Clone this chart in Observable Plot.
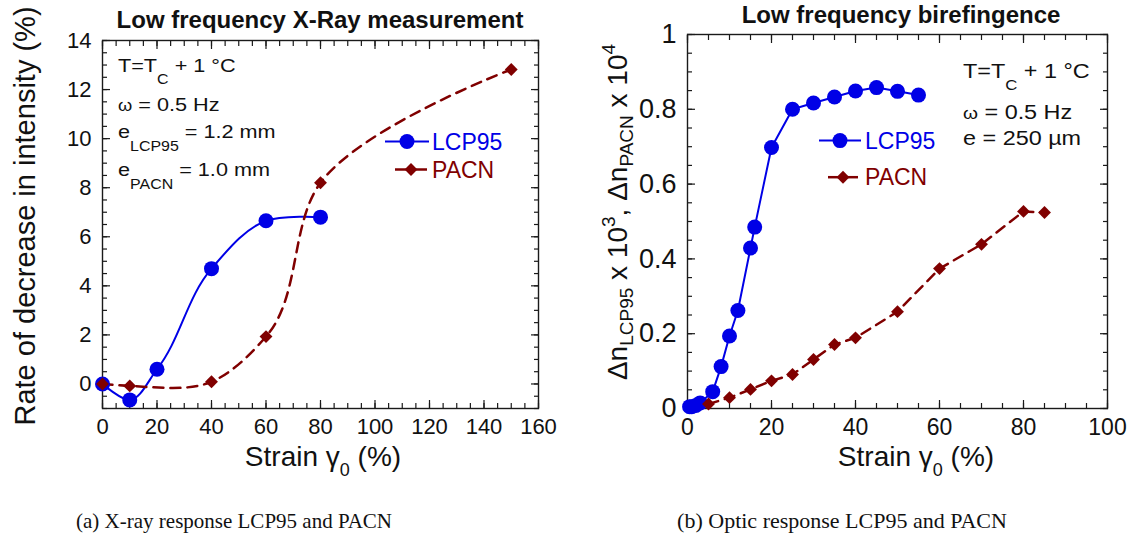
<!DOCTYPE html>
<html><head><meta charset="utf-8">
<script src="https://cdn.jsdelivr.net/npm/d3@7"></script>
<script src="https://cdn.jsdelivr.net/npm/@observablehq/plot@0.6"></script>
<style>
body{margin:0;background:#fff;}
#wrap{position:relative;width:1133px;height:541px;overflow:hidden;background:#fff;}
#left{position:absolute;left:0;top:0;}
#right{position:absolute;left:566px;top:0;}
.cap{position:absolute;top:509px;font-family:"Liberation Serif","Times New Roman",serif;font-size:21px;color:#111;transform:translateX(-50%);white-space:nowrap;}
</style></head><body>
<div id="wrap"><div id="left"></div><div id="right"></div>
<div class="cap" style="left:234px">(a) X-ray response LCP95 and PACN</div>
<div class="cap" style="left:842px;font-size:22px;top:508px">(b) Optic response LCP95 and PACN</div>
</div>
<script>
// ---- data: X-ray panel ----
const xrayStrainLCP95 = [0, 10, 20, 40, 60, 80];
const xrayRateLCP95   = [0, -0.65, 0.6, 4.7, 6.65, 6.8];
const xrayStrainPACN  = [0, 10, 40, 60, 80, 150];
const xrayRatePACN    = [0, -0.08, 0.09, 1.93, 8.2, 12.82];
// ---- data: birefringence panel ----
const biStrainLCP95 = [0.5, 1, 2, 3, 6, 8, 10, 12, 15, 16, 20, 25, 30, 35, 40, 45, 50, 55];
const biDnLCP95     = [0.005, 0.005, 0.008, 0.015, 0.045, 0.112, 0.194, 0.262, 0.429, 0.485, 0.698, 0.80, 0.817, 0.833, 0.849, 0.858, 0.848, 0.838];
const biStrainPACN  = [5, 10, 15, 20, 25, 30, 35, 40, 50, 60, 70, 80, 85];
const biDnPACN      = [0.012, 0.029, 0.051, 0.074, 0.091, 0.131, 0.171, 0.189, 0.259, 0.374, 0.439, 0.527, 0.524];
// ---- ticks ----
const xrayXTicks = [0, 20, 40, 60, 80, 100, 120, 140, 160];
const xrayYTicks = [0, 2, 4, 6, 8, 10, 12, 14];
const biXTicks = [0, 20, 40, 60, 80, 100];
const biYTicks = [0, 0.2, 0.4, 0.6, 0.8, 1];
const xrayXMinor = d3.range(0, 161, 5);
const xrayYMinor = d3.range(-1, 14.01, 0.5);
const biXMinor = d3.range(0, 101, 5);
const biYMinor = d3.range(0, 1.001, 0.05);

const BLUE = "#0000e6", RED = "#800000", INK = "#1a1a1a";
const FONT = "'Liberation Sans', Arial, Helvetica, sans-serif";

const zip = (xs, ys) => xs.map((x, i) => ({x, y: ys[i]}));

function frameTicks(major, minor, ymajor, yminor) {
  const o = {stroke: INK, strokeWidth: 1.2, label: null, text: null};
  return [
    Plot.axisX(minor, {anchor: "bottom", tickSize: -5, ...o}),
    Plot.axisX(minor, {anchor: "top", tickSize: -5, ...o}),
    Plot.axisX(major, {anchor: "bottom", tickSize: -8, ...o}),
    Plot.axisX(major, {anchor: "top", tickSize: -8, ...o}),
    Plot.axisY(yminor, {anchor: "left", tickSize: -5, ...o}),
    Plot.axisY(yminor, {anchor: "right", tickSize: -5, ...o}),
    Plot.axisY(ymajor, {anchor: "left", tickSize: -8, ...o}),
    Plot.axisY(ymajor, {anchor: "right", tickSize: -8, ...o}),
    Plot.frame({stroke: INK, strokeWidth: 1.4})
  ];
}

function rich(svg, x, y, parts, opts = {}) {
  const sx = opts.sx || 1;
  const t = d3.select(svg).append("text")
    .attr("x", 0).attr("y", 0)
    .attr("transform", `translate(${x},${y})${opts.rotate ? " rotate(-90)" : ""} scale(${sx},1)`)
    .attr("font-family", FONT)
    .attr("font-size", opts.size || 18)
    .attr("fill", opts.fill || "#111")
    .attr("text-anchor", opts.anchor || "start")
    .style("white-space", "pre");
  if (opts.weight) t.attr("font-weight", opts.weight);
  let shift = 0;
  for (const p of parts) {
    const [s, off = 0, size] = typeof p === "string" ? [p] : p;
    const ts = t.append("tspan").attr("dy", off - shift).text(s);
    if (size) ts.attr("font-size", size);
    shift = off;
  }
  return t;
}

function legend(svg, x1, x2, y, tx, label, color, symbol, dashed) {
  const g = d3.select(svg).append("g");
  g.append("line").attr("x1", x1).attr("x2", x2).attr("y1", y).attr("y2", y)
    .attr("stroke", color).attr("stroke-width", dashed ? 2.5 : 2);
  const cx = (x1 + x2) / 2;
  if (symbol === "circle") g.append("circle").attr("cx", cx).attr("cy", y).attr("r", 7.5).attr("fill", color);
  else g.append("path").attr("transform", `translate(${cx},${y})`)
    .attr("d", d3.symbol(d3.symbolDiamond2, Math.PI * 5.8 * 5.8)()).attr("fill", color);
  rich(svg, tx, y + 8, [label], {size: 23, fill: color});
}

// ---------------- Left panel ----------------
{
  const W = 566, H = 480, ml = 102, mr = 28, mt = 40, mb = 72;
  const lcp = zip(xrayStrainLCP95, xrayRateLCP95);
  const pac = zip(xrayStrainPACN, xrayRatePACN);
  const svg = Plot.plot({
    width: W, height: H, marginLeft: ml, marginRight: mr, marginTop: mt, marginBottom: mb,
    x: {domain: [0, 160]}, y: {domain: [-1, 14]},
    style: {fontFamily: FONT, fontSize: "22px", color: "#111", background: "white"},
    marks: [
      Plot.axisX(xrayXTicks, {tickSize: 0, tickPadding: 10, fontSize: 22, label: null, tickFormat: d => String(d)}),
      Plot.axisY(xrayYTicks, {tickSize: 0, tickPadding: 11, fontSize: 22, label: null, tickFormat: d => String(d)}),
      ...frameTicks(xrayXTicks, xrayXMinor, xrayYTicks, xrayYMinor),
      Plot.line(lcp, {x: "x", y: "y", stroke: BLUE, strokeWidth: 2, curve: "catmull-rom", tension: 1}),
      Plot.line(pac, {x: "x", y: "y", stroke: RED, strokeWidth: 2.5, strokeDasharray: "10,7", curve: "catmull-rom", tension: 1}),
      Plot.dot(lcp, {x: "x", y: "y", r: 7.5, fill: BLUE, stroke: "none"}),
      Plot.dot(pac, {x: "x", y: "y", r: 5.8, symbol: "diamond2", fill: RED, stroke: "none"})
    ]
  });
  document.getElementById("left").appendChild(svg);
  rich(svg, 320, 27.5, ["Low frequency X-Ray measurement"], {size: 24, weight: "bold", anchor: "middle"});
  rich(svg, 35, 216, ["Rate of decrease in intensity (%)"], {size: 29, anchor: "middle", rotate: true});
  rich(svg, 323, 466, ["Strain ", "\u03b3", ["0", 10, 18], [" (%)", 0]], {size: 28, anchor: "middle"});
  rich(svg, 118, 72, ["T=T", ["C", 12, 14], [" + 1 \u00b0C", 0]], {size: 19, sx: 1.14});
  rich(svg, 118, 110.5, [["\u03c9", 0, 16], " = 0.5 Hz"], {size: 19, sx: 1.14});
  rich(svg, 118, 137.5, ["e", ["LCP95", 13.5, 14], [" = 1.2 mm", 0]], {size: 19, sx: 1.14});
  rich(svg, 118, 176, ["e", ["PACN", 13.5, 14], [" = 1.0 mm", 0]], {size: 19, sx: 1.14});
  legend(svg, 385, 429, 141.5, 432, "LCP95", BLUE, "circle", false);
  legend(svg, 395, 427, 169.5, 432, "PACN", RED, "diamond", true);
}

// ---------------- Right panel ----------------
{
  const W = 567, H = 480, ml = 121, mr = 26, mt = 34, mb = 72;
  const lcp = zip(biStrainLCP95, biDnLCP95);
  const pac = zip(biStrainPACN, biDnPACN);
  const svg = Plot.plot({
    width: W, height: H, marginLeft: ml, marginRight: mr, marginTop: mt, marginBottom: mb,
    x: {domain: [0, 100]}, y: {domain: [0, 1]},
    style: {fontFamily: FONT, fontSize: "22px", color: "#111", background: "white"},
    marks: [
      Plot.axisX(biXTicks, {tickSize: 0, tickPadding: 10, fontSize: 23, label: null, tickFormat: d => String(d)}),
      Plot.axisY(biYTicks, {tickSize: 0, tickPadding: 11, fontSize: 27, label: null, tickFormat: d => String(d)}),
      ...frameTicks(biXTicks, biXMinor, biYTicks, biYMinor),
      Plot.line(lcp, {x: "x", y: "y", stroke: BLUE, strokeWidth: 2}),
      Plot.line(pac, {x: "x", y: "y", stroke: RED, strokeWidth: 2.5, strokeDasharray: "10,7"}),
      Plot.dot(lcp, {x: "x", y: "y", r: 7.5, fill: BLUE, stroke: "none"}),
      Plot.dot(pac, {x: "x", y: "y", r: 5.8, symbol: "diamond2", fill: RED, stroke: "none"})
    ]
  });
  document.getElementById("right").appendChild(svg);
  rich(svg, 335, 22.5, ["Low frequency birefingence"], {size: 24, weight: "bold", anchor: "middle"});
  rich(svg, 61, 212, ["\u0394n", ["LCP95", 6, 19], [" x 10", 0], ["3", -12, 19], [", \u0394n", 0], ["PACN", 6, 19], [" x 10", 0], ["4", -12, 19]], {size: 28, anchor: "middle", rotate: true});
  rich(svg, 350, 466, ["Strain ", "\u03b3", ["0", 10, 18], [" (%)", 0]], {size: 28, anchor: "middle"});
  rich(svg, 397, 77.5, ["T=T", ["C", 12, 14], [" + 1 \u00b0C", 0]], {size: 19.5, sx: 1.2});
  rich(svg, 397, 118.5, [["\u03c9", 0, 16], " = 0.5 Hz"], {size: 19.5, sx: 1.2});
  rich(svg, 397, 145, ["e = 250 \u00b5m"], {size: 19.5, sx: 1.2});
  legend(svg, 253, 295, 140.6, 299, "LCP95", BLUE, "circle", false);
  legend(svg, 262, 292, 177.2, 299, "PACN", RED, "diamond", true);
}
</script>
</body></html>
